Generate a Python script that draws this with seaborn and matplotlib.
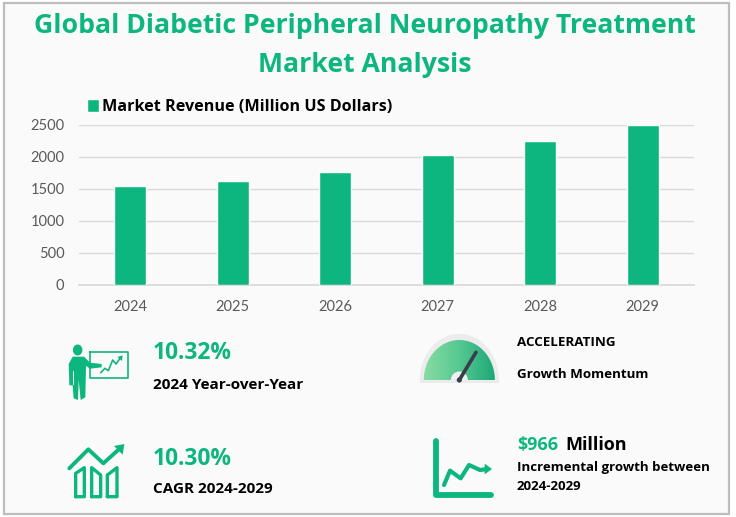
import matplotlib
matplotlib.use("Agg")
import matplotlib.pyplot as plt
from matplotlib.patches import Circle, Ellipse, Polygon, Rectangle, Wedge
import numpy as np
import pandas as pd
import seaborn as sns

years = ["2024", "2025", "2026", "2027", "2028", "2029"]
revenue = [1535, 1625, 1765, 2030, 2235, 2490]
series_name = "Market Revenue (Million US Dollars)"

GREEN = "#0db67f"
BG = "#fafafa"
TEXT_FONT = "Open Sans"

sns.set_theme(style="white")
plt.rcParams["font.family"] = [TEXT_FONT, "DejaVu Sans"]

fig = plt.figure(figsize=(7.36, 5.17), dpi=100, facecolor="white")

# panel behind everything, in pixel coordinates
bg = fig.add_axes([0, 0, 1, 1], facecolor="none", zorder=0)
bg.set_xlim(0, 736)
bg.set_ylim(517, 0)
bg.axis("off")
bg.add_patch(Rectangle((4, 3), 725, 511, fc=BG, ec="#bdbdbd", lw=1.6))

# chart
ax = fig.add_axes([79 / 736, 1 - 284.5 / 517, 615 / 736, 160 / 517], facecolor="none", zorder=1)
df = pd.DataFrame({"year": years, "revenue": revenue})
sns.barplot(data=df, x="year", y="revenue", color=GREEN, saturation=1, width=0.315,
            label=series_name, ax=ax, zorder=3)
ax.set_ylim(0, 2500)
ax.set_yticks([0, 500, 1000, 1500, 2000, 2500])
ax.set_xlabel("")
ax.set_ylabel("")
ax.grid(axis="y", color="#d9d9d9", lw=1)
ax.set_axisbelow(True)
sns.despine(ax=ax, left=True, top=True, right=True)
ax.spines["bottom"].set_color("#d9d9d9")
ax.tick_params(axis="both", length=0, labelcolor="#595959", labelsize=10.5)
ax.tick_params(axis="x", pad=11)
ax.tick_params(axis="y", pad=10.5)
for lab in ax.get_xticklabels() + ax.get_yticklabels():
    lab.set_family("Lato")
leg = ax.legend(loc="lower left", bbox_to_anchor=(0.0135, 1.06), frameon=False, handlelength=0.7,
                handleheight=0.85, handletextpad=0.2, borderpad=0, borderaxespad=0,
                labelcolor="black", prop={"family": TEXT_FONT, "weight": "bold", "size": 11.6})

# overlay in pixel coordinates for title, callouts and icons
ov = fig.add_axes([0, 0, 1, 1], facecolor="none", zorder=2)
ov.set_xlim(0, 736)
ov.set_ylim(517, 0)
ov.axis("off")

ov.text(365, 26, "Global Diabetic Peripheral Neuropathy Treatment", color=GREEN, fontsize=19.2,
        fontweight="bold", ha="center", va="center")
ov.text(365, 65, "Market Analysis", color=GREEN, fontsize=19.2, fontweight="bold", ha="center", va="center")


def label(x, y, s, size=11, color="black", weight="bold"):
    ov.text(x, y, s, fontsize=size, color=color, fontweight=weight, ha="left", va="center")


label(153, 353, "10.32%", 16.4, GREEN)
label(153, 385, "2024 Year-over-Year")
label(153, 459, "10.30%", 16.4, GREEN)
label(153, 489, "CAGR 2024-2029")
label(517, 343, "ACCELERATING", 9.6)
label(517, 375, "Growth Momentum", 9.6)
label(517, 445, "$966", 13, GREEN)
label(565, 445, "Million", 13)
label(517, 468, "Incremental growth between", 9.5)
label(517, 487, "2024-2029", 9.5)


def from_zoom(pts, x0, y0):
    return [(x0 + x / 3, y0 + y / 3) for x, y in pts]


def z1(pts):
    return from_zoom(pts, 40, 320)


def z2(pts):
    return from_zoom(pts, 400, 320)


def z4(pts):
    return from_zoom(pts, 60, 340)


def stroke(pts, lw, closed=False, color=GREEN):
    xs, ys = zip(*(pts + pts[:1] if closed else pts))
    ov.plot(xs, ys, color=color, lw=lw, solid_capstyle="round", solid_joinstyle="round")


def half_ellipse(cx, cy, rx, ry, **kw):
    t = np.linspace(np.pi, 2 * np.pi, 80)
    return Polygon(np.column_stack([cx + rx * np.cos(t), cy + ry * np.sin(t)]), closed=True, **kw)


# presenter icon
ov.add_patch(Ellipse(z4([(53, 30)])[0], 9.5, 11, fc=GREEN, ec="none"))
ov.add_patch(Polygon(z4([(26, 72), (38, 50), (72, 50), (90, 68), (125, 72), (125, 82), (90, 86), (78, 78),
                         (76, 172), (62, 180), (56, 120), (54, 180), (41, 175), (38, 136), (28, 136)]),
                     fc=GREEN, ec="none"))
stroke(z4([(39, 92), (39, 132)]), 0.7, color=BG)
stroke(z4([(90, 37), (205, 37), (205, 113), (90, 113)]), 1.2, closed=True)
stroke(z4([(122, 98), (135, 85), (145, 92), (158, 60), (168, 72), (180, 55)]), 1.2)
ov.add_patch(Polygon(z4([(172, 51), (188, 46), (186, 63)]), fc=GREEN, ec="none"))

# rising bars icon
stroke(z1([(88, 445), (145, 388), (190, 430), (240, 385)]), 2.8)
ov.add_patch(Polygon(z1([(222, 378), (253, 372), (248, 404)]), fc=GREEN, ec="none"))
stroke(z1([(107, 530), (107, 460), (133, 443), (133, 530)]), 2.4, closed=True)
stroke(z1([(155, 530), (155, 443), (182, 465), (182, 530)]), 2.4, closed=True)
stroke(z1([(202, 530), (202, 465), (231, 443), (231, 530)]), 2.4, closed=True)

# gauge icon
cx, cy = z2([(178, 180)])[0]
ov.add_patch(Rectangle((cx - 39.5, cy - 1), 79, 4, fc="#ececec", ec="none"))
ov.add_patch(half_ellipse(cx, cy, 39.5, 46, fc="#ececec", ec="none"))
face = half_ellipse(cx, cy, 35.5, 40, fc="none", ec="none")
ov.add_patch(face)
grad = np.linspace(0, 1, 64).reshape(1, -1)
cmap = matplotlib.colors.LinearSegmentedColormap.from_list("gauge", ["#8bdba4", "#55c992", "#1fa878"])
im = ov.imshow(grad, extent=(cx - 36, cx + 36, cy, cy - 40), cmap=cmap, aspect="auto", zorder=2)
im.set_clip_path(face)
ov.set_xlim(0, 736)
ov.set_ylim(517, 0)
ov.add_patch(Wedge((cx, cy), 8.5, 180, 360, fc="#f0f0f0", ec="none", zorder=3))
ov.plot(*zip(*z2([(178, 180), (228, 97)])), color="#3a3d4a", lw=2.6, solid_capstyle="round", zorder=4)
ov.add_patch(Circle((cx, cy), 2.6, fc="#3a3d4a", ec="none", zorder=4))

# line chart icon
stroke(z2([(107, 364), (107, 526), (272, 526)]), 4.2)
stroke(z2([(132, 495), (150, 452), (182, 475), (207, 435), (240, 450), (262, 447)]), 3)
ov.add_patch(Polygon(z2([(254, 431), (276, 447), (254, 463)]), fc=GREEN, ec="none"))

fig.savefig("out.png", dpi=100, facecolor="white")
